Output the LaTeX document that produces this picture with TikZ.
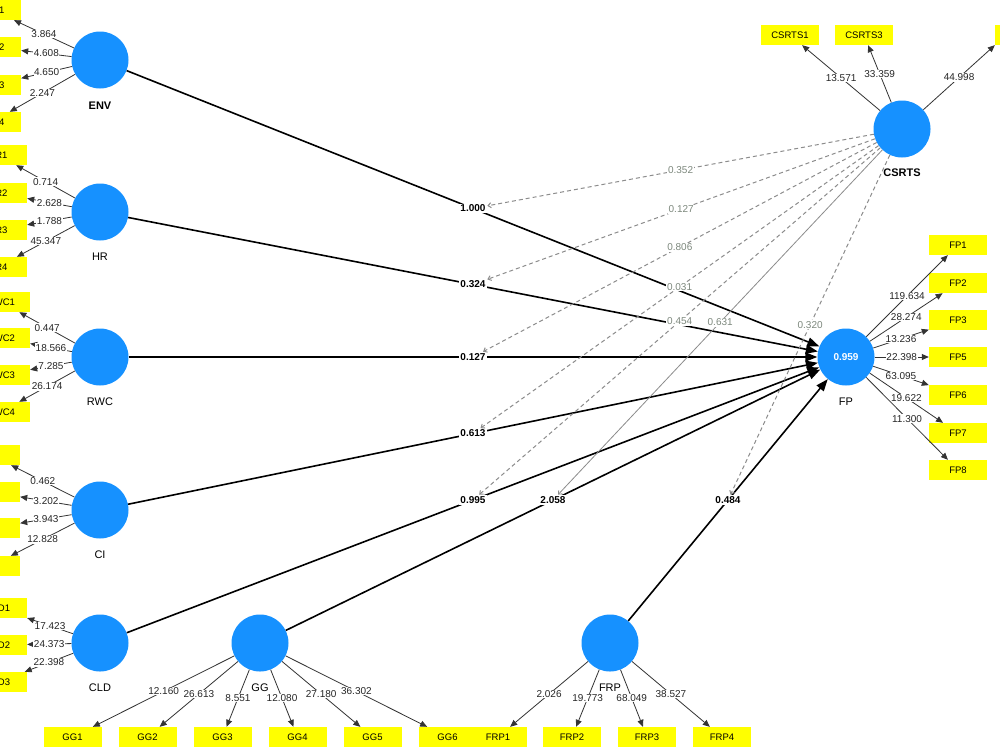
\documentclass[tikz,border=0pt]{standalone}
\usepackage{fontspec}
\setmainfont{Liberation Sans}
\usetikzlibrary{arrows.meta}
\definecolor{lvblue}{RGB}{22,145,255}
\definecolor{indyellow}{RGB}{255,255,0}
\definecolor{modtext}{RGB}{125,136,125}
\definecolor{modline}{RGB}{140,140,140}
\newcommand\myfs[1]{\fontsize{#1}{#1}\selectfont}
\tikzset{
  lv/.style={circle, fill=lvblue, minimum size=57pt, inner sep=0pt},
  ind/.style={fill=indyellow, minimum width=58pt, minimum height=20pt, inner sep=0pt, font=\myfs{9.5}},
  ld/.style={draw=black!80, line width=0.8pt, -{Triangle[length=7pt,width=6pt]}},
  lnum/.style={fill=white, inner sep=0.6pt, font=\myfs{10}, text=black!85},
  sp/.style={draw=black, line width=1.6pt, -{Triangle[length=12pt,width=9pt]}},
  plab/.style={fill=white, inner sep=1pt, font=\bfseries\myfs{10}},
  modl/.style={draw=modline, line width=1pt, dash pattern=on 4pt off 3pt, -{Straight Barb[length=3pt,width=5pt]}},
  modsolid/.style={draw=modline, line width=0.8pt, -{Straight Barb[length=3pt,width=5pt]}},
  mlab/.style={fill=white, inner sep=1pt, text=modtext, font=\myfs{10}},
  lvlab/.style={font=\myfs{11}}
}
\begin{document}
\begin{tikzpicture}[x=1pt,y=-1pt]
\clip (0,0) rectangle (1000,750);
\fill[white] (0,0) rectangle (1000,750);

% latent variables
\node[lv] (ENV) at (100,60) {};
\node[lv] (HR) at (100,212) {};
\node[lv] (RWC) at (100,357) {};
\node[lv] (CI) at (100,510) {};
\node[lv] (CLD) at (100,643) {};
\node[lv] (GG) at (260,643) {};
\node[lv] (FRP) at (610,643) {};
\node[lv, text=white, font=\bfseries\myfs{10}] (FP) at (846,357) {0.959};
\node[lv] (CSRTS) at (902,129) {};

% latent labels
\node[lvlab, font=\bfseries\myfs{11}] (tENV) at (100,106) {ENV};
\node[lvlab] (tHR) at (100,257) {HR};
\node[lvlab] (tRWC) at (100,402) {RWC};
\node[lvlab] (tCI) at (100,555) {CI};
\node[lvlab] (tCLD) at (100,688) {CLD};
\node[lvlab] (tGG) at (260,688) {GG};
\node[lvlab] (tFRP) at (610,688) {FRP};
\node[lvlab] (tFP) at (846,402) {FP};
\node[lvlab, font=\bfseries\myfs{11}] (tCSRTS) at (902,173) {CSRTS};

% indicators left
\node[ind] (ENV1) at (-8,10) {ENV1};
\node[ind] (ENV2) at (-8,47) {ENV2};
\node[ind] (ENV3) at (-8,85) {ENV3};
\node[ind] (ENV4) at (-8,122) {ENV4};
\node[ind] (HR1) at (-2,155) {HR1};
\node[ind] (HR2) at (-2,193) {HR2};
\node[ind] (HR3) at (-2,230) {HR3};
\node[ind] (HR4) at (-2,267) {HR4};
\node[ind] (RWC1) at (1,302) {RWC1};
\node[ind] (RWC2) at (1,338) {RWC2};
\node[ind] (RWC3) at (1,375) {RWC3};
\node[ind] (RWC4) at (1,412) {RWC4};
\node[ind] (CI1) at (-9,455) {CI1};
\node[ind] (CI2) at (-9,492) {CI2};
\node[ind] (CI3) at (-9,528) {CI3};
\node[ind] (CI4) at (-9,566) {CI4};
\node[ind] (CLD1) at (-2,608) {CLD1};
\node[ind] (CLD2) at (-2,645) {CLD2};
\node[ind] (CLD3) at (-2,682) {CLD3};

% FP indicators
\node[ind] (FP1) at (958,245) {FP1};
\node[ind] (FP2) at (958,283) {FP2};
\node[ind] (FP3) at (958,320) {FP3};
\node[ind] (FP5) at (958,357) {FP5};
\node[ind] (FP6) at (958,395) {FP6};
\node[ind] (FP7) at (958,433) {FP7};
\node[ind] (FP8) at (958,470) {FP8};

% CSRTS indicators
\node[ind] (CSRTS1) at (790,35) {CSRTS1};
\node[ind] (CSRTS3) at (864,35) {CSRTS3};
\node[ind] (CSRTSx) at (1024,35) {INCSRTS2};

% bottom indicators
\node[ind] (GG1) at (72.5,737) {GG1};
\node[ind] (GG2) at (147.5,737) {GG2};
\node[ind] (GG3) at (222.5,737) {GG3};
\node[ind] (GG4) at (297.5,737) {GG4};
\node[ind] (GG5) at (372.5,737) {GG5};
\node[ind] (GG6) at (447.5,737) {GG6};
\node[ind] (FRP1) at (498,737) {FRP1};
\node[ind] (FRP2) at (572,737) {FRP2};
\node[ind] (FRP3) at (647,737) {FRP3};
\node[ind] (FRP4) at (722,737) {FRP4};

% loadings
\draw[ld] (ENV) -- node[lnum]{3.864} (ENV1);
\draw[ld] (ENV) -- node[lnum]{4.608} (ENV2);
\draw[ld] (ENV) -- node[lnum]{4.650} (ENV3);
\draw[ld] (ENV) -- node[lnum]{2.247} (ENV4);
\draw[ld] (HR) -- node[lnum]{0.714} (HR1);
\draw[ld] (HR) -- node[lnum]{2.628} (HR2);
\draw[ld] (HR) -- node[lnum]{1.788} (HR3);
\draw[ld] (HR) -- node[lnum]{45.347} (HR4);
\draw[ld] (RWC) -- node[lnum]{0.447} (RWC1);
\draw[ld] (RWC) -- node[lnum]{18.566} (RWC2);
\draw[ld] (RWC) -- node[lnum]{7.285} (RWC3);
\draw[ld] (RWC) -- node[lnum]{26.174} (RWC4);
\draw[ld] (CI) -- node[lnum]{0.462} (CI1);
\draw[ld] (CI) -- node[lnum]{3.202} (CI2);
\draw[ld] (CI) -- node[lnum]{3.943} (CI3);
\draw[ld] (CI) -- node[lnum]{12.828} (CI4);
\draw[ld] (CLD) -- node[lnum]{17.423} (CLD1);
\draw[ld] (CLD) -- node[lnum]{24.373} (CLD2);
\draw[ld] (CLD) -- node[lnum]{22.398} (CLD3);
\draw[ld] (FP) -- node[lnum]{119.634} (FP1);
\draw[ld] (FP) -- node[lnum]{28.274} (FP2);
\draw[ld] (FP) -- node[lnum]{13.236} (FP3);
\draw[ld] (FP) -- node[lnum]{22.398} (FP5);
\draw[ld] (FP) -- node[lnum]{63.095} (FP6);
\draw[ld] (FP) -- node[lnum]{19.622} (FP7);
\draw[ld] (FP) -- node[lnum]{11.300} (FP8);
\draw[ld] (CSRTS) -- node[lnum]{13.571} (CSRTS1);
\draw[ld] (CSRTS) -- node[lnum]{33.359} (CSRTS3);
\draw[ld] (CSRTS) -- node[lnum]{44.998} (CSRTSx.south west);
\draw[ld] (GG) -- node[lnum]{12.160} (GG1);
\draw[ld] (GG) -- node[lnum]{26.613} (GG2);
\draw[ld] (GG) -- node[lnum]{8.551} (GG3);
\draw[ld] (GG) -- node[lnum]{12.080} (GG4);
\draw[ld] (GG) -- node[lnum]{27.180} (GG5);
\draw[ld] (GG) -- node[lnum]{36.302} (GG6);
\draw[ld] (FRP) -- node[lnum]{2.026} (FRP1);
\draw[ld] (FRP) -- node[lnum]{19.773} (FRP2);
\draw[ld] (FRP) -- node[lnum]{68.049} (FRP3);
\draw[ld] (FRP) -- node[lnum]{38.527} (FRP4);

% structural paths
\draw[sp] (ENV) -- node[plab] (pENV) {1.000} (FP);
\draw[sp] (HR) -- node[plab] (pHR) {0.324} (FP);
\draw[sp] (RWC) -- node[plab] (pRWC) {0.127} (FP);
\draw[sp] (CI) -- node[plab] (pCI) {0.613} (FP);
\draw[sp] (CLD) -- node[plab] (pCLD) {0.995} (FP);
\draw[sp] (GG) -- node[plab] (pGG) {2.058} (FP);
\draw[sp] (FRP) -- node[plab] (pFRP) {0.484} (FP);

% moderating effects
\draw[modl] (CSRTS) -- node[mlab]{0.352} (pENV);
\draw[modl] (CSRTS) -- node[mlab]{0.127} (pHR);
\draw[modl] (CSRTS) -- node[mlab]{0.806} (pRWC);
\draw[modl] (CSRTS) -- node[mlab]{0.031} (pCI);
\draw[modl] (CSRTS) -- node[mlab]{0.454} (pCLD);
\draw[modsolid] (CSRTS) -- node[mlab]{0.631} (pGG);
\draw[modl] (CSRTS) -- node[mlab]{0.320} (pFRP);
\end{tikzpicture}
\end{document}
